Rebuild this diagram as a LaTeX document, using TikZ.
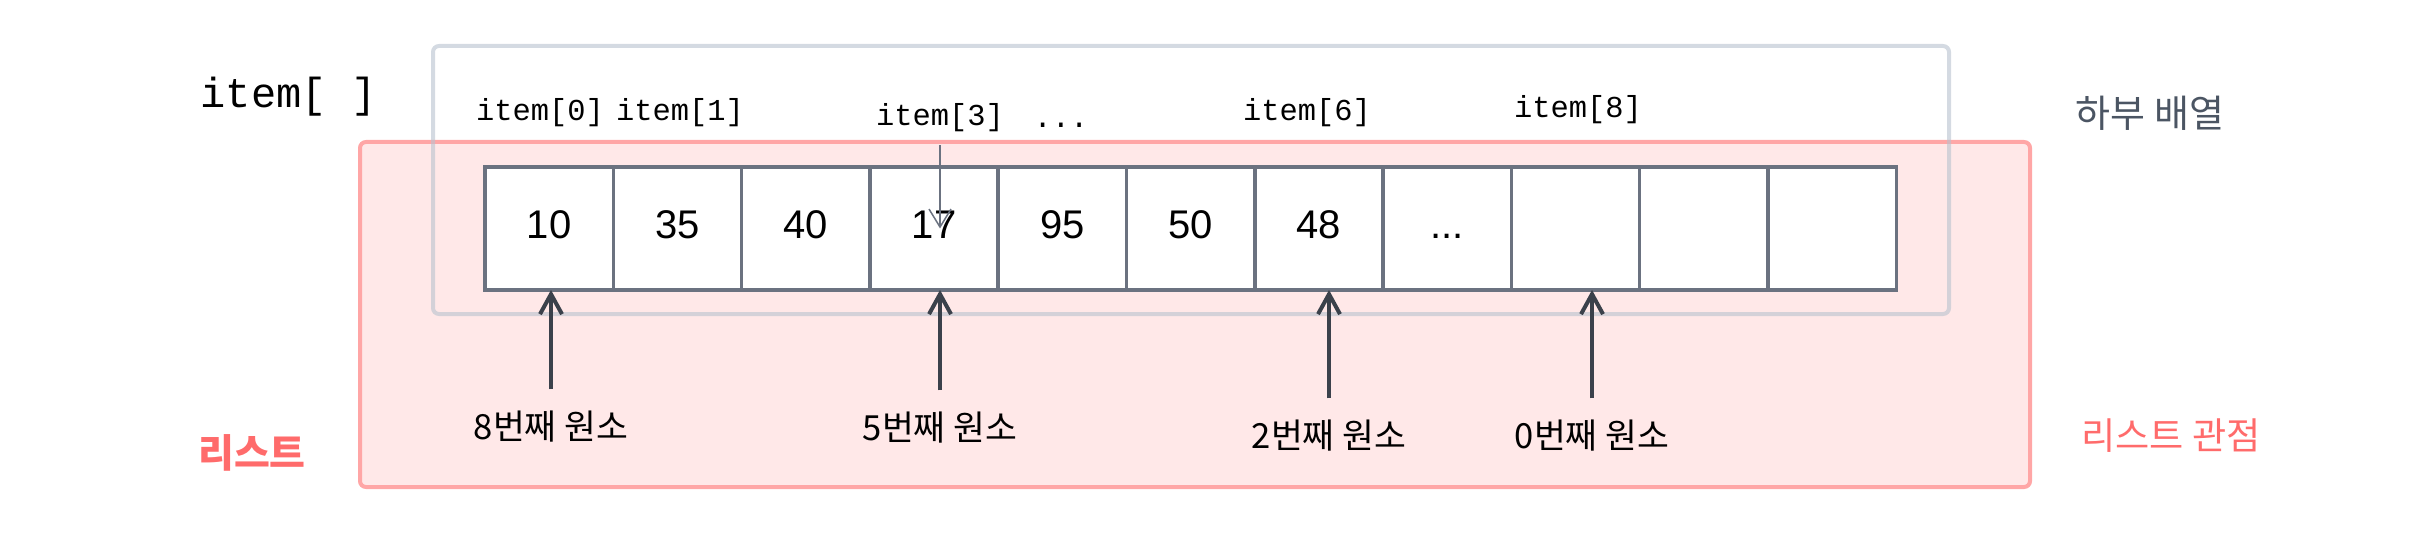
\documentclass[tikz,border=0pt]{standalone}
\usepackage{fontspec}
\setmainfont{Liberation Sans}
\setmonofont{Liberation Mono}
\newfontfamily\kr{Noto Sans CJK KR}
\usetikzlibrary{arrows.meta,positioning}
\definecolor{listfill}{HTML}{FFE8E8}
\definecolor{listline}{HTML}{FFA6A6}
\definecolor{listtext}{HTML}{FF6B6B}
\definecolor{baseline}{HTML}{B8C2CE}
\definecolor{basetext}{HTML}{4B5563}
\definecolor{cellline}{HTML}{6B7280}
\definecolor{ptrline}{HTML}{3B414B}

\begin{document}
\begin{tikzpicture}[x=.5pt,y=-.5pt,
    cell/.style={draw=cellline,line width=1.75pt,fill=white,minimum width=64.15pt,minimum height=61.5pt,inner sep=0pt,outer sep=0pt,font=\fontsize{20}{22}\selectfont,text height=14.5pt,text depth=4.5pt},
    idx/.style={font=\ttfamily\fontsize{15.2}{18}\selectfont},
    nth/.style={font=\kr\fontsize{17.3}{20}\selectfont},
    ptr/.style={draw=ptrline,line width=2pt,-{Straight Barb[length=10pt,width=11pt]},shorten <=7.5pt},
    thinptr/.style={draw=cellline,line width=.75pt,-{Straight Barb[length=9pt,width=11pt]},shorten <=3pt}]
  \useasboundingbox (0,0) rectangle (2423,534);
  \draw[fill=listfill,draw=listline,line width=2pt,rounded corners=3pt] (360,142) rectangle (2030,487);
  \draw[draw=baseline,draw opacity=.6,line width=2pt,rounded corners=3pt] (433,46) rectangle (1949,314);

  \node[cell] (c0) at (549.15,228.5) {10};
  \node[cell,right=0pt of c0] (c1) {35};
  \node[cell,right=0pt of c1] (c2) {40};
  \node[cell,right=0pt of c2] (c3) {17};
  \node[cell,right=0pt of c3] (c4) {95};
  \node[cell,right=0pt of c4] (c5) {50};
  \node[cell,right=0pt of c5] (c6) {48};
  \node[cell,right=0pt of c6] (c7) {...};
  \node[cell,right=0pt of c7] (c8) {};
  \node[cell,right=0pt of c8] (c9) {};
  \node[cell,right=0pt of c9] (c10) {};

  \node[font=\ttfamily\fontsize{21}{24}\selectfont] (arr) at (289,97) {item[ ]};
  \node[idx] (i0) at (540,113) {item[0]};
  \node[idx] (i1) at (680,113) {item[1]};
  \node[idx] (i3) at (940,118) {item[3]};
  \node[idx] (more) at (1061,125) {...};
  \node[idx] (i6) at (1307,113) {item[6]};
  \node[idx] (i8) at (1578,110) {item[8]};
  \draw[thinptr] (i3) -- (i3 |- c3.center);

  \node[nth] (n8) at (551,427) {8번째 원소};
  \node[nth] (n5) at (940,428) {5번째 원소};
  \node[nth] (n2) at (1329,436) {2번째 원소};
  \node[nth] (n0) at (1592,436) {0번째 원소};
  \draw[ptr] (n8) -- (n8 |- c0.south);
  \draw[ptr] (n5) -- (n5 |- c3.south);
  \draw[ptr] (n2) -- (n2 |- c6.south);
  \draw[ptr] (n0) -- (n0 |- c8.south);

  \node[font=\kr\fontsize{19}{22}\selectfont,text=basetext] (sub) at (2150,113) {하부 배열};
  \node[font=\kr\fontsize{18.6}{22}\selectfont,text=listtext] (view) at (2171,436) {리스트 관점};
  \node[font=\kr\bfseries\fontsize{19.5}{22}\selectfont,text=listtext] (list) at (252,453) {리스트};
\end{tikzpicture}
\end{document}
